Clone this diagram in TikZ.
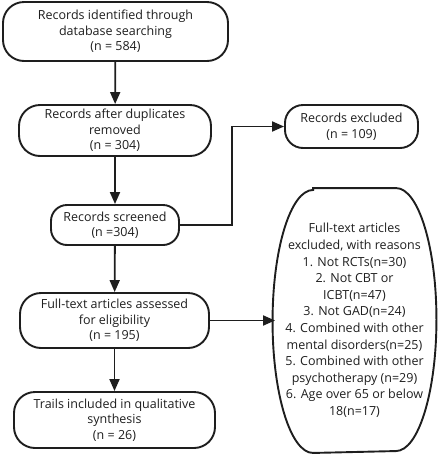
\documentclass[tikz,border=0pt]{standalone}
\usepackage{fontspec}
\setmainfont{Open Sans}
\usetikzlibrary{arrows.meta,calc}
\definecolor{ink}{HTML}{1E1E1E}
\tikzset{
  box/.style={draw=ink, line width=1.9pt, rounded corners=21pt, align=center,
    inner sep=0pt, text=ink, font=\fontsize{12.5}{15.5}\selectfont},
  conn/.style={draw=ink, line width=1.8pt, -{Triangle[length=12pt,width=10pt]}},
  line/.style={draw=ink, line width=1.9pt},
}
\begin{document}
\begin{tikzpicture}[x=1pt,y=-1pt]
\useasboundingbox (0,0) rectangle (447,456);
\node[box, minimum width=225pt, minimum height=59pt] (b1) at (115.5,31.5)
  {Records identified through\\database searching\\(n = 584)};
\node[box, minimum width=192pt, minimum height=51pt] (b2) at (115,130.5)
  {Records after duplicates\\removed\\(n = 304)};
\node[box, minimum width=128pt, minimum height=40pt, rounded corners=16pt] (b3) at (115,225)
  {Records screened\\(n =304)};
\node[box, minimum width=189pt, minimum height=55pt] (b4) at (114.5,320.5)
  {Full-text articles assessed\\for eligibility\\(n = 195)};
\node[box, minimum width=201pt, minimum height=56pt] (b5) at (114.5,420)
  {Trails included in qualitative\\synthesis\\(n = 26)};
\node[box, minimum width=133pt, minimum height=43pt, rounded corners=18pt] (rex) at (351.5,126.5)
  {Records excluded\\(n = 109)};
\node[box, draw=none, minimum width=157pt, minimum height=263pt,
  font=\fontsize{12.5}{16.6}\selectfont] (ex) at (354.5,320.5)
  {Full-text articles\\excluded, with reasons\\1. Not RCTs(n=30)\\2. Not CBT or\\ICBT(n=47)\\3. Not GAD(n=24)\\4. Combined with other\\mental disorders(n=25)\\5. Combined with other\\psychotherapy (n=29)\\6. Age over 65 or below\\18(n=17)};
\draw[line] ([xshift=38pt]ex.north west) -- ([xshift=-38pt]ex.north east)
  arc[start angle=90, end angle=-90, x radius=40.5pt, y radius=131.5pt]
  -- ([xshift=38pt]ex.south west)
  arc[start angle=-90, end angle=-270, x radius=40.5pt, y radius=131.5pt] -- cycle;
\coordinate (elb) at (232,225);
\draw[conn] (b1) -- (b2);
\draw[conn] (b2) -- (b3);
\draw[conn] (b3) -- (b4);
\draw[conn] (b4) -- (b5);
\draw[conn] (b3.east) -- (elb) |- (rex.west);
\draw[conn] (b4.east) -- (ex.west);
\end{tikzpicture}
\end{document}
